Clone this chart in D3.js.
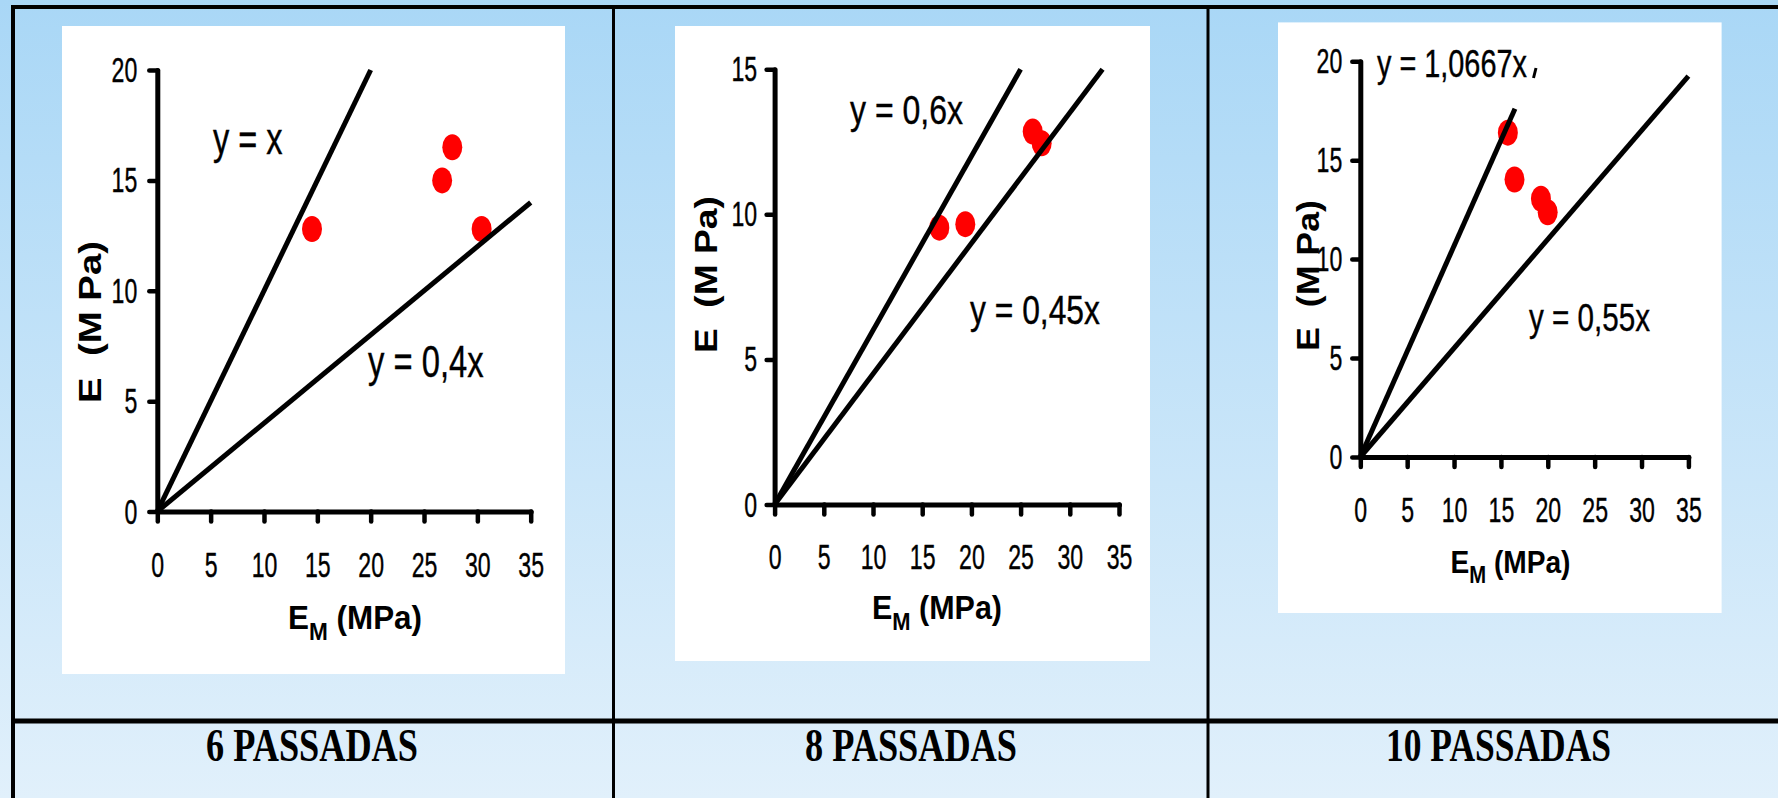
<!DOCTYPE html>
<html><head><meta charset="utf-8">
<script src="https://cdn.jsdelivr.net/npm/d3@7"></script>
<style>html,body{margin:0;padding:0;overflow:hidden;background:#fff}</style>
</head><body><svg id="c" width="1778" height="798"></svg>
<script>
// ---------- data ----------
const panelTitles = ["6 PASSADAS", "8 PASSADAS", "10 PASSADAS"];
const xTicks = [0, 5, 10, 15, 20, 25, 30, 35];
const yTicks6 = [0, 5, 10, 15, 20];
const yTicks8 = [0, 5, 10, 15];
const yTicks10 = [0, 5, 10, 15, 20];
const xMax = 35;
const yMax6 = 20, yMax8 = 15, yMax10 = 20;
// measured points (E_M, E) in MPa
const em6 = [14.5, 26.7, 27.65, 30.4];
const e6 = [12.8, 15.0, 16.5, 12.8];
const em8 = [16.74, 19.38, 26.23, 27.14];
const e8 = [9.54, 9.66, 12.85, 12.45];
const em10 = [15.74, 16.45, 19.27, 19.99];
const e10 = [16.39, 14.02, 13.05, 12.37];
// bounding lines y = a*x, drawn from x=0 to xEnd
const slopes6 = [1, 0.4], xEnd6 = [20, 35];
const slopes8 = [0.6, 0.45], xEnd8 = [25, 33.33];
const slopes10 = [1.0667, 0.55], xEnd10 = [16.5, 35];
const eqLabels6 = ["y = x", "y = 0,4x"];
const eqLabels8 = ["y = 0,6x", "y = 0,45x"];
const eqLabels10 = ["y = 1,0667x", "y = 0,55x"];
const xAxisTitle = ["E", "M", " (MPa)"];
const yAxisTitle = "E\u00A0\u00A0(M\u00A0Pa)";

const panels = [
  {em: em6, e: e6, slopes: slopes6, xEnd: xEnd6, eq: eqLabels6, yMax: yMax6, yTicks: yTicks6},
  {em: em8, e: e8, slopes: slopes8, xEnd: xEnd8, eq: eqLabels8, yMax: yMax8, yTicks: yTicks8},
  {em: em10, e: e10, slopes: slopes10, xEnd: xEnd10, eq: eqLabels10, yMax: yMax10, yTicks: yTicks10}
];

// ---------- layout ----------
const layout = [
  {box: [62, 26, 565, 674], x0: 157.3, x1: 530.7, y0: 511.5, y1: 70, ytGap: 20, xtBase: 65.5,
   ylab: {x: 101, cy: 322, len: 162}, xlab: {cx: 355, base: 629, w: 134, fs: 34},
   eqPos: [{x: 213, base: 153.5, w: 70, fs: 45}, {x: 368, base: 377, w: 116, fs: 45}],
   title: {cx: 312, w: 212}},
  {box: [675, 26, 1150, 661], x0: 774.6, x1: 1119, y0: 504.5, y1: 69.2, ytGap: 17.5, xtBase: 64.5,
   ylab: {x: 717, cy: 274.6, len: 157}, xlab: {cx: 937, base: 619, w: 130, fs: 34},
   eqPos: [{x: 850, base: 123.5, w: 113, fs: 40}, {x: 970, base: 324, w: 130, fs: 40}],
   title: {cx: 911, w: 212}},
  {box: [1278, 22.4, 1721.6, 613], x0: 1360.3, x1: 1688.4, y0: 457, y1: 61.2, ytGap: 18, xtBase: 65,
   ylab: {x: 1319, cy: 275.5, len: 151}, xlab: {cx: 1510.5, base: 573, w: 120, fs: 32},
   eqPos: [{x: 1377, base: 77, w: 150, fs: 38}, {x: 1529, base: 331, w: 121, fs: 38}],
   title: {cx: 1498.5, w: 225}}
];

const SX = 0.66; // horizontal compression of the sans text
const SANS = "'Liberation Sans', Arial, sans-serif";
const svg = d3.select("#c");

// background gradient
const defs = svg.append("defs");
const grad = defs.append("linearGradient").attr("id", "bg").attr("x1", 0).attr("y1", 0).attr("x2", 0).attr("y2", 1);
grad.append("stop").attr("offset", 0).attr("stop-color", "#a9d7f6");
grad.append("stop").attr("offset", 1).attr("stop-color", "#e1f0fb");
svg.append("rect").attr("width", 1778).attr("height", 798).attr("fill", "url(#bg)");

// frame
const frame = svg.append("g").attr("stroke", "#000");
frame.append("line").attr("x1", 11).attr("x2", 1778).attr("y1", 7).attr("y2", 7).attr("stroke-width", 4);
frame.append("line").attr("x1", 13).attr("x2", 13).attr("y1", 5).attr("y2", 798).attr("stroke-width", 4);
frame.append("line").attr("x1", 613.5).attr("x2", 613.5).attr("y1", 5).attr("y2", 798).attr("stroke-width", 3);
frame.append("line").attr("x1", 1208).attr("x2", 1208).attr("y1", 5).attr("y2", 798).attr("stroke-width", 3);
frame.append("line").attr("x1", 11).attr("x2", 1778).attr("y1", 721).attr("y2", 721).attr("stroke-width", 5);

function fitText(sel, x, y, width, anchor) {
  const w = sel.node().getBBox().width;
  const s = width / w;
  sel.attr("text-anchor", anchor).attr("transform", `translate(${x},${y}) scale(${s},1)`);
}

panels.forEach((p, i) => {
  const L = layout[i];
  const g = svg.append("g");
  g.append("rect").attr("x", L.box[0]).attr("y", L.box[1])
    .attr("width", L.box[2] - L.box[0]).attr("height", L.box[3] - L.box[1]).attr("fill", "#fff");

  const xs = d3.scaleLinear().domain([0, xMax]).range([L.x0, L.x1]);
  const ys = d3.scaleLinear().domain([0, p.yMax]).range([L.y0, L.y1]);

  // points (under the lines)
  g.append("g").selectAll("ellipse").data(p.em.map((v, k) => [v, p.e[k]])).join("ellipse")
    .attr("cx", d => xs(d[0])).attr("cy", d => ys(d[1]))
    .attr("rx", 10).attr("ry", 13).attr("fill", "#ff0000");

  // lines
  const line = d3.line().x(d => xs(d[0])).y(d => ys(d[1]));
  g.append("g").selectAll("path").data(p.slopes.map((a, k) => [[0, 0], [p.xEnd[k], a * p.xEnd[k]]])).join("path")
    .attr("d", line).attr("stroke", "#000").attr("stroke-width", 5).attr("fill", "none");

  // axes
  const gx = g.append("g").attr("transform", `translate(0,${L.y0})`)
    .call(d3.axisBottom(xs).tickValues(xTicks).tickSize(10).tickSizeOuter(0));
  const gy = g.append("g").attr("transform", `translate(${L.x0},0)`)
    .call(d3.axisLeft(ys).tickValues(p.yTicks).tickSize(8).tickSizeOuter(0));
  [gx, gy].forEach(a => {
    a.attr("font-family", SANS).attr("font-size", 35);
    a.select(".domain").attr("stroke", "#000").attr("stroke-width", 5).attr("stroke-linecap", "round");
    a.selectAll(".tick line").attr("stroke", "#000").attr("stroke-width", 4.5).attr("stroke-linecap", "round");
    a.selectAll(".tick text").attr("fill", "#000").attr("stroke", "#000").attr("stroke-width", 0.4);
  });
  gx.selectAll(".tick text").attr("y", L.xtBase).attr("dy", 0).attr("transform", `scale(${SX},1)`);
  gy.selectAll(".tick text").attr("x", -L.ytGap / SX).attr("dy", "0.33em").attr("transform", `scale(${SX},1)`);

  // equation labels
  p.eq.forEach((txt, k) => {
    const pos = L.eqPos[k];
    const t = g.append("text").attr("font-family", SANS)
      .attr("font-size", pos.fs).attr("fill", "#000").attr("stroke", "#000").attr("stroke-width", 0.4).text(txt);
    fitText(t, pos.x, pos.base, pos.w, "start");
  });

  // x axis title with subscript
  const fs = L.xlab.fs;
  const xt = g.append("text").attr("font-family", SANS)
    .attr("font-weight", "bold").attr("font-size", fs).attr("fill", "#000");
  xt.append("tspan").text(xAxisTitle[0]);
  xt.append("tspan").attr("font-size", fs * 0.72).attr("dy", fs * 0.32).text(xAxisTitle[1]);
  xt.append("tspan").attr("dy", -fs * 0.32).style("white-space", "pre").text(xAxisTitle[2]);
  fitText(xt, L.xlab.cx, L.xlab.base, L.xlab.w, "middle");

  // y axis title (rotated)
  g.append("text").attr("font-family", SANS)
    .attr("font-weight", "bold").attr("font-size", 32).attr("fill", "#000")
    .attr("text-anchor", "middle").attr("textLength", L.ylab.len).attr("lengthAdjust", "spacingAndGlyphs")
    .attr("transform", `translate(${L.ylab.x},${L.ylab.cy}) rotate(-90)`).text(yAxisTitle);

  // panel title
  const tt = svg.append("text").attr("font-family", "'Liberation Serif', 'Times New Roman', serif")
    .attr("font-weight", "bold").attr("font-size", 47).attr("fill", "#000").text(panelTitles[i]);
  fitText(tt, L.title.cx, 761, L.title.w, "middle");
});

// small stray stroke next to the 1,0667x label in the source figure
svg.append("line").attr("x1", 1536).attr("y1", 68).attr("x2", 1533.5).attr("y2", 78)
  .attr("stroke", "#000").attr("stroke-width", 3);
</script>
</body></html>
